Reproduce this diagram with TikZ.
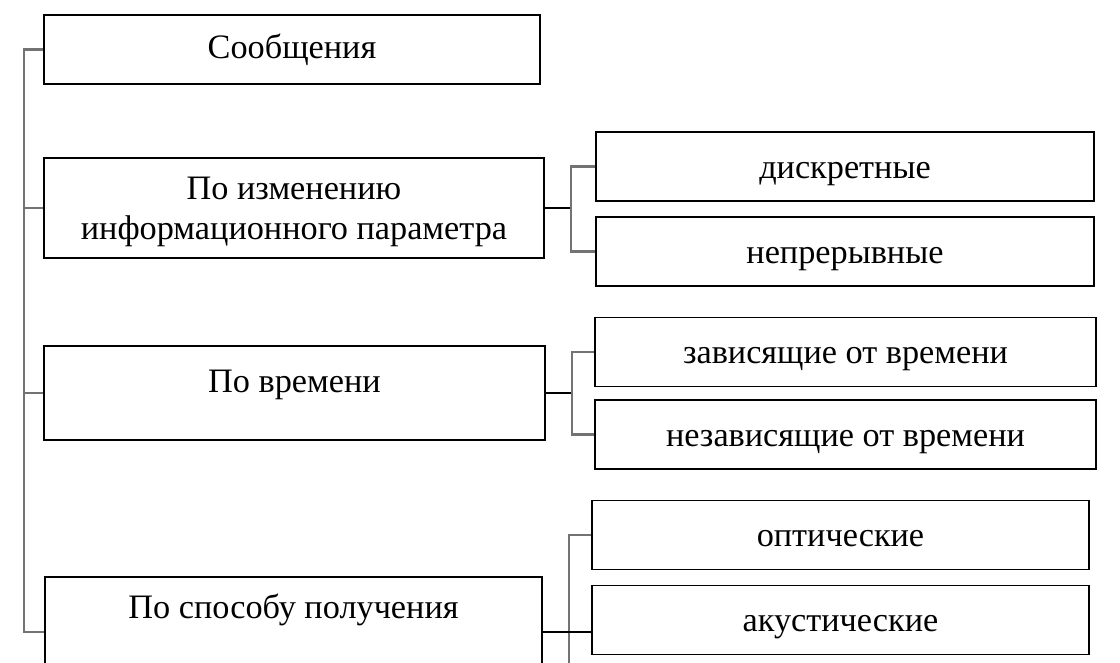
\documentclass[tikz,border=0pt]{standalone}
\usepackage{fontspec}
\setmainfont{Liberation Serif}
\usetikzlibrary{positioning}
\tikzset{
  box/.style={draw, line width=1.1pt, minimum width=9.96cm, minimum height=1.38cm, inner sep=0pt, align=center},
  rbox/.style={box, text depth=0pt, text height=0.46cm},
  brace/.style={draw=black!55, line width=1.4pt},
  link/.style={draw, line width=1.1pt}
}
\begin{document}
\begin{tikzpicture}[x=0.02cm, y=-0.02cm, font=\fontsize{19.5}{23}\selectfont, line join=miter]
\useasboundingbox (0,0) rectangle (1120,663);
\clip (0,0) rectangle (1120,663);
% left column
\node[box, minimum width=9.92cm] (msg) at (292,49.5) {Сообщения};
\node[box, minimum width=10cm, minimum height=2cm, text depth=0pt] (par) at (294,208) {По изменению\\информационного параметра};
\node[box, minimum width=10.02cm, minimum height=1.88cm, text depth=0.45cm] (time) at (294.5,393) {По времени};
\node[box, minimum width=9.94cm, minimum height=3cm, anchor=north] (recv) at (293.5,576) {};
\node (recvtxt) at (293.5,610) {По способу получения};
% right column
\node[rbox] (disc) at (845,166.5) {дискретные};
\node[rbox] (cont) at (845,251.5) {непрерывные};
\node[rbox, minimum width=10.02cm] (dep) at (845.5,352) {зависящие от времени};
\node[rbox, minimum width=10.02cm] (indep) at (845.5,434.5) {независящие от времени};
\node[rbox] (opt) at (840.5,535) {оптические};
\node[rbox] (acou) at (840.5,620) {акустические};
\path
  (24,632) coordinate (s4)
  (recv.north east) ++(0,56) coordinate (r)
  (569,700) coordinate (rb)
  ;
% left bracket
\draw[brace] (msg.west) -| (s4) -- (s4 -| recv.west);
\foreach \b in {par,time}
  {\draw[brace] (\b.west) -- (\b.west -| s4);}
% right brackets
\foreach \a/\u/\l in {par/disc/cont,time/dep/indep}
  {\draw[link] (\a.east) -- ++(26,0) coordinate (\a-j);
   \draw[brace] (\u.west) -| (\a-j) |- (\l.west);}
\draw[brace] (opt.west) -| (rb);
\draw[link] (r) -- (r -| acou.west);
\end{tikzpicture}
\end{document}
